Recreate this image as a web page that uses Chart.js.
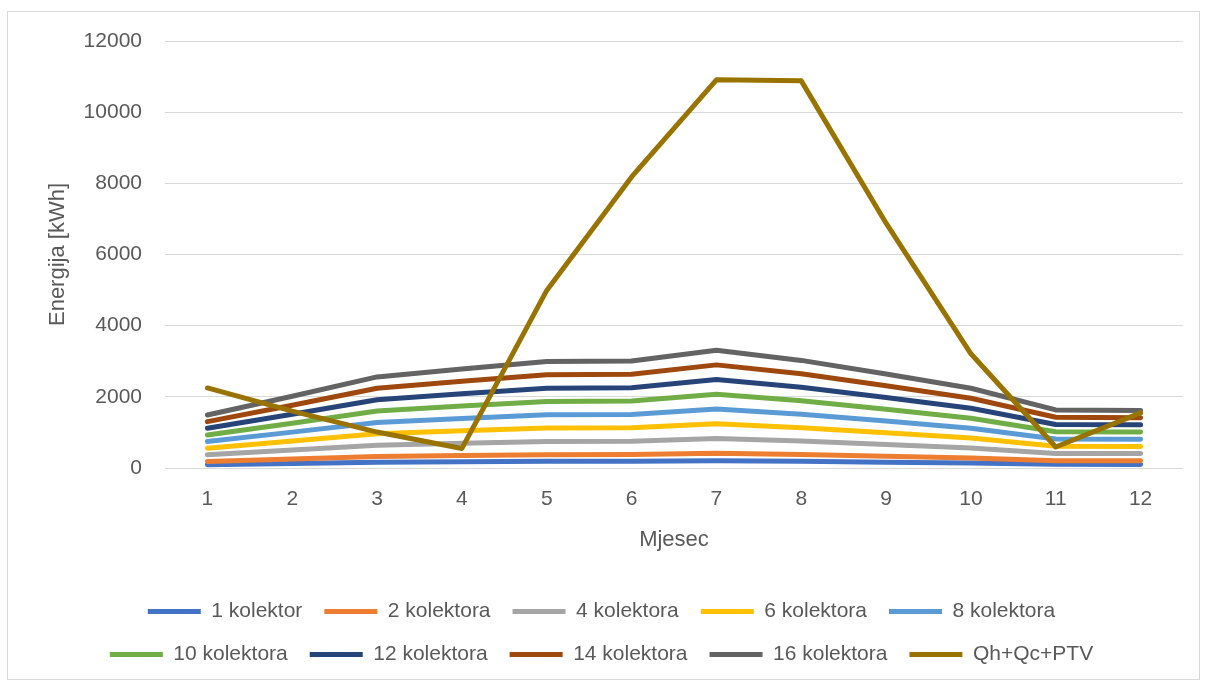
<!DOCTYPE html>
<html>
<head>
<meta charset="utf-8">
<script src="https://cdn.jsdelivr.net/npm/chart.js@4/dist/chart.umd.min.js"></script>
<style>
  body { margin: 0; background: #fff; }
  #wrap { position: relative; width: 1206px; height: 681px; }
  #frame { position: absolute; left: 7px; top: 11px; width: 1191px; height: 667px; border: 1px solid #d9d9d9; pointer-events: none; }
</style>
</head>
<body>
<div id="wrap">
  <canvas id="chart" width="1206" height="681"></canvas>
  <div id="frame"></div>
</div>
<script>
const months = ['1', '2', '3', '4', '5', '6', '7', '8', '9', '10', '11', '12'];

const kol1 = [93, 126, 160, 174, 187, 188, 207, 189, 165, 140, 102, 101];
const kol2 = [186, 252, 320, 348, 374, 376, 414, 378, 330, 280, 204, 202];
const kol4 = [372, 504, 640, 696, 748, 752, 828, 756, 660, 560, 408, 404];
const kol6 = [558, 756, 960, 1044, 1122, 1128, 1242, 1134, 990, 840, 612, 606];
const kol8 = [744, 1008, 1280, 1392, 1496, 1504, 1656, 1512, 1320, 1120, 816, 808];
const kol10 = [930, 1260, 1600, 1740, 1870, 1880, 2070, 1890, 1650, 1400, 1020, 1010];
const kol12 = [1116, 1512, 1920, 2088, 2244, 2256, 2484, 2268, 1980, 1680, 1224, 1212];
const kol14 = [1302, 1764, 2240, 2436, 2618, 2632, 2898, 2646, 2310, 1960, 1428, 1414];
const kol16 = [1488, 2016, 2560, 2784, 2992, 3008, 3312, 3024, 2640, 2240, 1632, 1616];
const qhQcPtv = [2250, 1600, 1010, 550, 4990, 8180, 10910, 10880, 6880, 3210, 590, 1550];

const yTicks = [0, 2000, 4000, 6000, 8000, 10000, 12000];

const names = ['1 kolektor', '2 kolektora', '4 kolektora', '6 kolektora', '8 kolektora',
    '10 kolektora', '12 kolektora', '14 kolektora', '16 kolektora', 'Qh+Qc+PTV'];
const series = [kol1, kol2, kol4, kol6, kol8, kol10, kol12, kol14, kol16, qhQcPtv];
const colors = ['#4472C4', '#ED7D31', '#A5A5A5', '#FFC000', '#5B9BD5',
    '#70AD47', '#264478', '#9E480E', '#636363', '#997300'];

Chart.defaults.font.family = '"Liberation Sans", Arial, sans-serif';
Chart.defaults.color = '#595959';

// legend wraps after 5 items like the Excel one
const legendRows = {
    id: 'legendRows',
    beforeLayout(chart) {
        const legend = chart.legend;
        if (!legend || legend._rowsPatched) return;
        const fit = legend.fit;
        legend.fit = function () {
            const full = this.maxWidth;
            this.maxWidth = 1090;
            fit.call(this);
            this.maxWidth = full;
            this.width = full;
        };
        legend._rowsPatched = true;
    }
};

let ctx = document.getElementById('chart');

new Chart(ctx, {
    type: 'line',
    data: {
        labels: months,
        datasets: series.map((s, i) => ({
            label: names[i],
            data: s,
            borderColor: colors[i],
            backgroundColor: colors[i],
            borderWidth: 5,
            borderCapStyle: 'round',
            borderJoinStyle: 'round',
            pointRadius: 0,
            tension: 0,
            fill: false,
            order: series.length - i
        }))
    },
    options: {
        responsive: false,
        animation: false,
        layout: {
            padding: { left: 20, right: 23, top: 41, bottom: 6 }
        },
        scales: {
            x: {
                offset: true,
                grid: { display: false, drawTicks: false },
                border: { display: false },
                ticks: { padding: 19, font: { size: 21 } },
                title: {
                    display: true,
                    text: 'Mjesec',
                    font: { size: 22 },
                    padding: { top: 0, bottom: 26 }
                },
                afterFit: axis => { axis.height = 111; }
            },
            y: {
                min: 0,
                max: 12000,
                afterBuildTicks: axis => { axis.ticks = yTicks.map(v => ({ value: v })); },
                grid: { color: '#d9d9d9', lineWidth: 1, drawTicks: false },
                border: { display: false },
                ticks: { padding: 23, font: { size: 21 }, callback: v => String(v) },
                title: {
                    display: true,
                    text: 'Energija [kWh]',
                    font: { size: 22 },
                    padding: { top: 25, bottom: 0 }
                },
                afterFit: axis => { axis.width = 145; }
            }
        },
        plugins: {
            legend: {
                position: 'bottom',
                labels: {
                    usePointStyle: true,
                    pointStyle: 'line',
                    pointStyleWidth: 53,
                    padding: 22,
                    font: { size: 21 },
                    color: '#595959',
                    sort: (a, b) => a.datasetIndex - b.datasetIndex
                }
            },
            tooltip: { enabled: false }
        }
    },
    plugins: [legendRows]
});
</script>
</body>
</html>
